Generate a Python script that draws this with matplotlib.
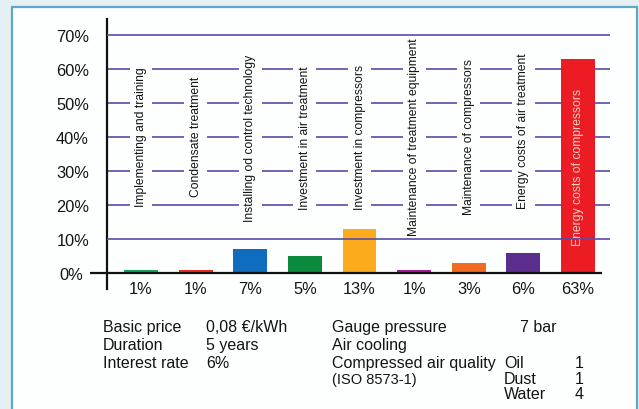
import matplotlib
matplotlib.use("Agg")
import matplotlib.pyplot as plt
from matplotlib.patches import Rectangle
from matplotlib.transforms import offset_copy

# Cost shares of a compressed-air station over its lifetime
categories = [
    "Implementing and training",
    "Condensate treatment",
    "Installing od control technology",
    "Investment in air treatment",
    "Investment in compressors",
    "Maintenance of treatment equipment",
    "Maintenance of compressors",
    "Energy costs of air treatment",
    "Energy costs of compressors",
]
shares = [1, 1, 7, 5, 13, 1, 3, 6, 63]
bar_colors = ["#17a35c", "#ec2a24", "#0f6cbf", "#0b8a3e", "#fbab1c",
              "#a3199a", "#f26b22", "#5b2e8e", "#ec1c24"]
y_ticks = [0, 10, 20, 30, 40, 50, 60, 70]

# Assumptions printed under the chart
params_left = [("Basic price", "0,08 €/kWh"), ("Duration", "5 years"),
               ("Interest rate", "6%")]
params_right = ["Gauge pressure", "Air cooling", "Compressed air quality",
                "(ISO 8573-1)"]
pressure_value = "7 bar"
quality_classes = [("Oil", "1"), ("Dust", "1"), ("Water", "4")]

# vertical centre of each rotated category label (in % units)
label_centres = [40.3, 40.3, 40, 40, 40.3, 40.2, 40.2, 42, 31.2]

W, H = 639, 410
plt.rcParams["font.family"] = ["Liberation Sans", "DejaVu Sans"]

fig = plt.figure(figsize=(W / 100, H / 100), dpi=100)
fig.patch.set_facecolor("#e4f0f4")


def fx(px):
    return px / W


def fy(py):
    return 1 - py / H


# white panel with blue frame
panel = Rectangle((fx(12), fy(420)), fx(637) - fx(12), fy(8) - fy(420),
                  transform=fig.transFigure, facecolor="#fdfefe",
                  edgecolor="#5ea8c6", linewidth=1.6, zorder=-10)
fig.patches.append(panel)

ax = fig.add_axes([fx(107), fy(290), fx(610) - fx(107), fy(20) - fy(290)])
ax.set_zorder(1)
ax.set_facecolor("none")
x = list(range(len(categories)))
ax.set_xlim(-0.623, 8.586)
ax.set_ylim(-4.7, 74.7)

for s in ["top", "right", "bottom"]:
    ax.spines[s].set_visible(False)
ax.spines["left"].set_linewidth(1.6)
ax.spines["left"].set_color("#111111")

ax.set_xticks([])
ax.set_yticks([])
tc = "#141414"

# y tick labels; the zero label sits left of the extended zero line
ytrans = ax.get_yaxis_transform()
for v in y_ticks:
    shift = -24 if v == 0 else -18
    tr = offset_copy(ytrans, fig=fig, x=shift * 72 / 100, y=0, units="points")
    ax.text(0, v, f"{v}%", transform=tr, ha="right", va="center_baseline",
            fontsize=11.8, color=tc, clip_on=False)

grid_color = "#5a4ca8"
for v in y_ticks[1:]:
    z = 4 if v in (10, 70) else 1
    ax.axhline(v, color=grid_color, linewidth=1.2, zorder=z)

# zero line extending past the y-axis
ax.plot([-0.934, 8.443], [0, 0], color="#111111", linewidth=1.6,
        clip_on=False, zorder=5, solid_capstyle="butt")

ax.bar(x, shares, width=0.62, color=bar_colors, zorder=3)

for xi, v in zip(x, shares):
    ax.text(xi, -4.7, f"{v}%", ha="center", va="center", fontsize=11.8,
            color=tc, clip_on=False)

for i, (name, yc) in enumerate(zip(categories, label_centres)):
    if i == len(categories) - 1:
        ax.text(x[i], yc, name, rotation=90, ha="center", va="center",
                fontsize=8.7, color="#f8d2c8", zorder=6)
    else:
        ax.text(x[i], yc, name, rotation=90, ha="center", va="center",
                fontsize=8.7, color=tc, zorder=2,
                bbox=dict(boxstyle="square,pad=0.45", facecolor="#fdfefe",
                          edgecolor="none"))

# parameter block
base = [332, 350, 368, 384, 399]
for (k, v), b in zip(params_left, base):
    fig.text(fx(103), fy(b), k, fontsize=11.5, va="baseline", color=tc)
    fig.text(fx(206), fy(b), v, fontsize=11.5, va="baseline", color=tc)
for i, (t, b) in enumerate(zip(params_right, base)):
    fig.text(fx(332), fy(b), t, fontsize=10.5 if i == 3 else 11.5,
             va="baseline", color=tc)
fig.text(fx(520), fy(base[0]), pressure_value, fontsize=11.5, va="baseline",
         color=tc)
for (k, v), b in zip(quality_classes, base[2:]):
    fig.text(fx(504), fy(b), k, fontsize=11.5, va="baseline", color=tc)
    fig.text(fx(584), fy(b), v, fontsize=11.5, va="baseline", ha="right",
             color=tc)

fig.savefig("out.png", dpi=100, facecolor=fig.get_facecolor())
